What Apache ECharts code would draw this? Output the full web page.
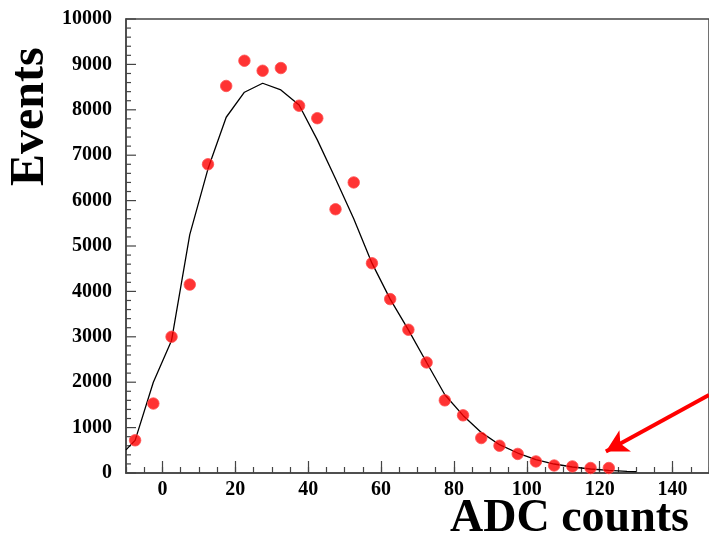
<!DOCTYPE html>
<html>
<head>
<meta charset="utf-8">
<script src="https://cdn.jsdelivr.net/npm/echarts@6/dist/echarts.min.js"></script>
<style>html,body{margin:0;padding:0;background:#fff;}#c{width:709px;height:538px;}</style>
</head>
<body>
<div id="c"></div>
<script>
// ---- data ----
var binCenters = [-7.5,-2.5,2.5,7.5,12.5,17.5,22.5,27.5,32.5,37.5,42.5,47.5,52.5,57.5,62.5,67.5,72.5,77.5,82.5,87.5,92.5,97.5,102.5,107.5,112.5,117.5,122.5];
var eventCounts = [720,1530,3000,4150,6800,8525,9080,8860,8920,8090,7815,5810,6400,4620,3830,3155,2435,1600,1270,770,600,420,255,165,145,110,110];
var fitX = [-10,-7.5,-2.5,2.5,7.5,12.5,17.5,22.5,27.5,32.5,37.5,42.5,47.5,52.5,57.5,62.5,67.5,72.5,77.5,82.5,87.5,92.5,97.5,102.5,107.5,112.5,117.5,122.5,127.5,130];
var fitY = [510,718,2000,2920,5250,6700,7836,8387,8585,8437,8107,7337,6480,5600,4622,3830,3154,2435,1723,1268,894,623,440,293,198,132,88,57,35,30];
var xMajorTicks = [0,20,40,60,80,100,120,140];
var xMinorTicks = [];
for (var t = -10; t <= 150; t += 5) xMinorTicks.push(t);
var yMajorTicks = [0,1000,2000,3000,4000,5000,6000,7000,8000,9000,10000];
var yMinorTicks = [];
for (var u = 0; u <= 10000; u += 200) yMinorTicks.push(u);
var arrowFrom = [150, 1720];
var arrowTo = [121.7, 475];
var xTitle = 'ADC counts';
var yTitle = 'Events';
var X_MIN = -10, X_MAX = 150;

var font = '"Liberation Serif", "Times New Roman", serif';
var chart = echarts.init(document.getElementById('c'), null, {renderer: 'canvas'});
var axisColor = '#444';

// y-axis ticks drawn at the left edge of the axis through the axis scale
var yTickData = yMinorTicks.map(function (v) {
  return [X_MIN, v, yMajorTicks.indexOf(v) >= 0 ? 10 : 5];
});

chart.setOption({
  animation: false,
  backgroundColor: '#fff',
  grid: {left: 126, top: 19, right: -3, bottom: 65, show: true, borderColor: axisColor, borderWidth: 1.5, backgroundColor: 'transparent'},
  xAxis: [{
    type: 'value', min: X_MIN, max: X_MAX,
    axisLine: {show: true, onZero: false, lineStyle: {color: axisColor, width: 1.5}},
    axisTick: {show: true, inside: true, length: 12, customValues: xMajorTicks, lineStyle: {color: axisColor, width: 1.2}},
    axisLabel: {customValues: xMajorTicks, margin: 7, color: '#000', fontFamily: font, fontWeight: 'bold', fontSize: 20},
    splitLine: {show: false}
  }, {
    type: 'value', min: X_MIN, max: X_MAX, position: 'bottom',
    axisLine: {show: false, onZero: false},
    axisTick: {show: true, inside: true, length: 6, customValues: xMinorTicks, lineStyle: {color: axisColor, width: 1.2}},
    axisLabel: {show: false},
    splitLine: {show: false}
  }],
  yAxis: {
    type: 'value', min: 0, max: 10000, interval: 1000, position: 'left',
    axisLine: {show: true, onZero: false, lineStyle: {color: axisColor, width: 1.5}},
    axisTick: {show: false},
    axisLabel: {margin: 14, color: '#000', fontFamily: font, fontWeight: 'bold', fontSize: 20,
      formatter: function (v) { return String(v); }},
    splitLine: {show: false}
  },
  series: [{
    type: 'custom', name: 'yTicks', silent: true, clip: false,
    data: yTickData,
    encode: {x: 0, y: 1},
    renderItem: function (params, api) {
      var p = api.coord([api.value(0), api.value(1)]);
      var len = api.value(2);
      return {type: 'line', shape: {x1: p[0], y1: p[1], x2: p[0] + len, y2: p[1]},
        style: {stroke: axisColor, lineWidth: 1.2}};
    },
    z: 1
  }, {
    type: 'line', name: 'fit',
    data: fitX.map(function (x, i) { return [x, fitY[i]]; }),
    showSymbol: false, symbol: 'none',
    lineStyle: {color: '#000', width: 1.3},
    z: 2,
    markLine: {
      silent: true, symbol: ['none', 'arrow'], symbolSize: [18, 22],
      lineStyle: {color: '#ff0000', width: 4, type: 'solid'},
      label: {show: false},
      data: [[{coord: arrowFrom}, {coord: arrowTo}]]
    }
  }, {
    type: 'scatter', name: 'data',
    data: binCenters.map(function (x, i) { return [x, eventCounts[i]]; }),
    symbol: 'circle', symbolSize: 11.5,
    itemStyle: {color: '#ff0000', borderColor: '#ff5050', borderWidth: 1},
    z: 3
  }],
  graphic: [{
    type: 'text', left: 450, top: 496,
    style: {text: xTitle, font: 'bold 46px ' + font, fill: '#000'}
  }, {
    type: 'text', x: 7, y: 186, rotation: Math.PI / 2,
    style: {text: yTitle, font: 'bold 48px ' + font, fill: '#000'}
  }]
});
</script>
</body>
</html>
